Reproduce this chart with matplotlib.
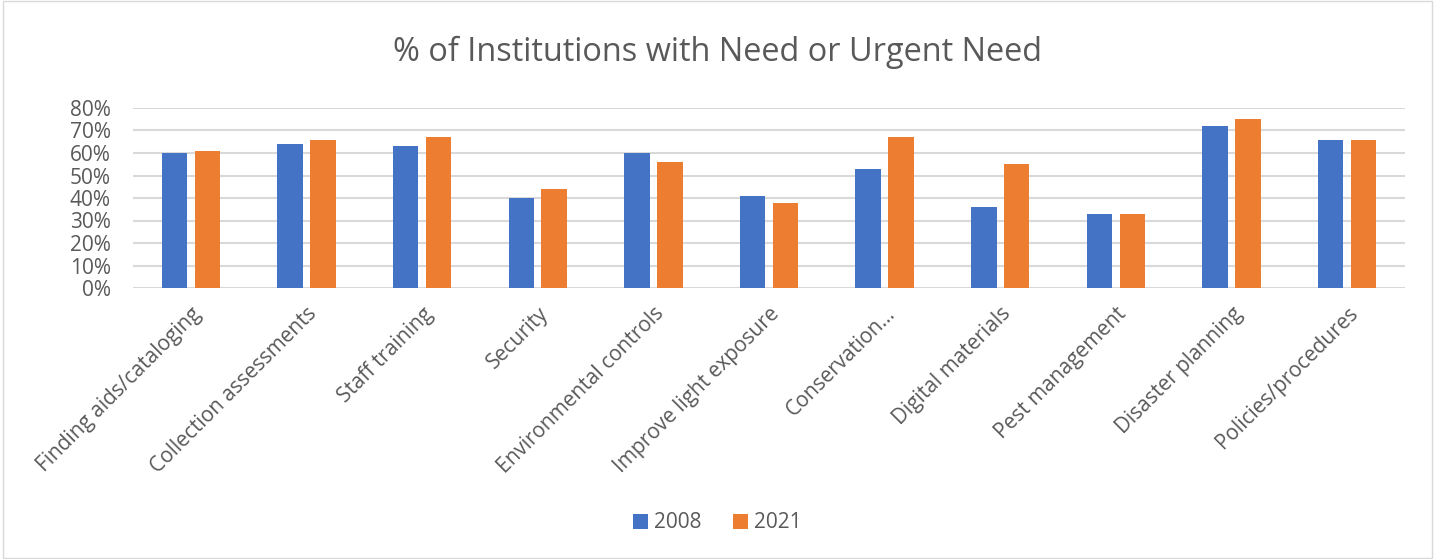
import matplotlib.pyplot as plt
import numpy as np
from matplotlib.ticker import PercentFormatter

categories = ["Finding aids/cataloging", "Collection assessments", "Staff training",
              "Security", "Environmental controls", "Improve light exposure",
              "Conservation…", "Digital materials", "Pest management",
              "Disaster planning", "Policies/procedures"]
v2008 = [60, 64, 63, 40, 60, 41, 53, 36, 33, 72, 66]
v2021 = [61, 66, 67, 44, 56, 38, 67, 55, 33, 75, 66]

plt.rcParams['font.family'] = ['Open Sans', 'DejaVu Sans']
txt = '#595959'

fig = plt.figure(figsize=(14.35, 5.59), dpi=100)
ax = fig.add_axes([133/1435, 1 - 288/559, (1405-133)/1435, 180/559])

x = np.arange(len(categories))
w = 0.22
ax.bar(x - 0.142, np.array(v2008) / 100, w, color='#4472C4', label='2008', zorder=3)
ax.bar(x + 0.142, np.array(v2021) / 100, w, color='#ED7D31', label='2021', zorder=3)

ax.set_xlim(-0.5, len(categories) - 0.5)
ax.set_ylim(0, 0.8)
ax.set_yticks(np.arange(0, 0.81, 0.1))
ax.yaxis.set_major_formatter(PercentFormatter(1.0, decimals=0))
ax.grid(axis='y', color='#d9d9d9', linewidth=1.5, zorder=0)
for s in ax.spines.values():
    s.set_visible(False)
ax.tick_params(axis='both', length=0, labelsize=15, colors=txt)
ax.tick_params(axis='y', pad=16)
ax.tick_params(axis='x', pad=11)
ax.set_xticks(x)
ax.set_xticklabels(categories, rotation=45, ha='right', rotation_mode='anchor')

fig.text(0.5, 1 - 52/559, '% of Institutions with Need or Urgent Need',
         ha='center', va='center', fontsize=23.4, color=txt)

fig.legend(loc='center', bbox_to_anchor=(0.5, 1 - 523/559), ncol=2, frameon=False,
           fontsize=15, labelcolor=txt, handlelength=0.7, handleheight=0.7,
           handletextpad=0.3, columnspacing=1.5)

fig.patches.append(plt.Rectangle((0.002, 0.002), 0.996, 0.996, transform=fig.transFigure,
                                 fill=False, edgecolor='#d9d9d9', linewidth=1))

fig.savefig('out.png', dpi=100)
